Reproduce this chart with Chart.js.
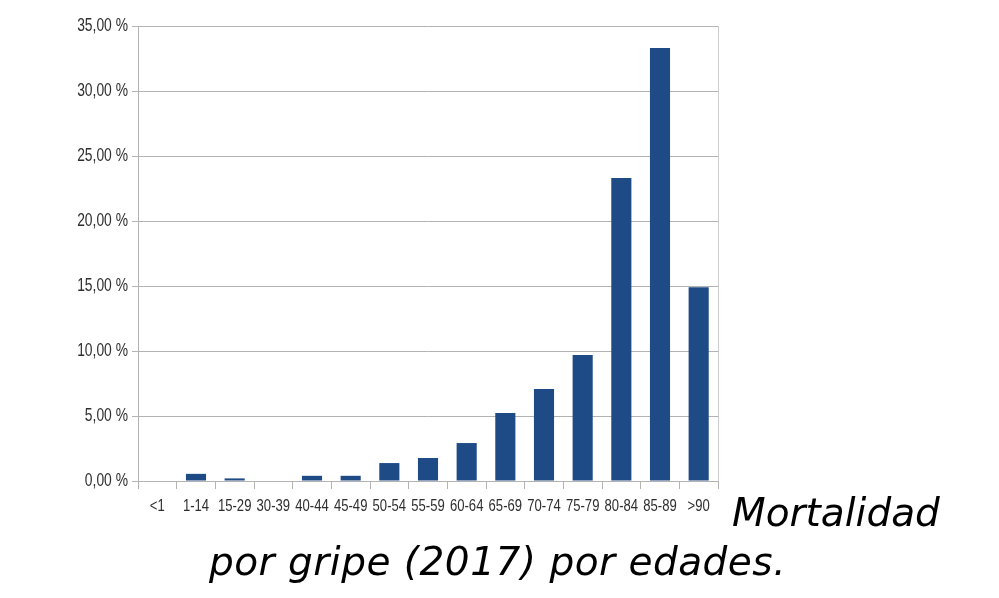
<!DOCTYPE html>
<html>
<head>
<meta charset="utf-8">
<script src="https://cdn.jsdelivr.net/npm/chart.js@4"></script>
<style>
  html, body { margin: 0; padding: 0; background: #fff; }
  #wrap { position: relative; width: 999px; height: 598px; }
  .cap {
    position: absolute;
    font-family: 'DejaVu Sans', Verdana, sans-serif;
    font-style: italic;
    font-size: 39px;
    line-height: 39px;
    color: #000;
    white-space: nowrap;
  }
</style>
</head>
<body>
<div id="wrap">
  <canvas id="bars" width="999" height="598"></canvas>
  <div class="cap" style="left:732px; top:493px;">Mortalidad</div>
  <div class="cap" style="left:209px; top:542px; letter-spacing:0.5px;">por gripe (2017) por edades.</div>
</div>
<script>
// age groups
const ageGroups = ['<1', '1-14', '15-29', '30-39', '40-44', '45-49', '50-54', '55-59',
  '60-64', '65-69', '70-74', '75-79', '80-84', '85-89', '>90'];
// share of flu deaths, percent
const mortality = [0, 0.55, 0.2, 0, 0.4, 0.4, 1.38, 1.77, 2.92, 5.23, 7.08, 9.69, 23.3, 33.3, 14.9];

const gridGray = '#b3b3b3';
const labelColor = '#2e2e2e';

// no narrow font installed, so squeeze the tick labels by hand
function narrowText(ctx, text, x, y, size, squeeze, align) {
  ctx.save();
  ctx.translate(x, y);
  ctx.scale(squeeze, 1);
  ctx.font = size + "px 'Liberation Sans', Arial, sans-serif";
  ctx.fillStyle = labelColor;
  ctx.textAlign = align;
  ctx.textBaseline = 'middle';
  ctx.fillText(text, 0, 0);
  ctx.restore();
}

const frameAndLabels = {
  id: 'frameAndLabels',
  afterDraw(chart) {
    const { ctx, chartArea } = chart;
    const xs = chart.scales.x;
    const ys = chart.scales.y;

    // thin frame on the right side of the plot
    ctx.save();
    ctx.strokeStyle = '#cccccc';
    ctx.lineWidth = 1;
    ctx.beginPath();
    ctx.moveTo(chartArea.right + 0.5, chartArea.top);
    ctx.lineTo(chartArea.right + 0.5, chartArea.bottom);
    ctx.stroke();
    ctx.restore();

    ys.ticks.forEach((t, i) => {
      narrowText(ctx, t.label, chartArea.left - 10, ys.getPixelForTick(i), 18, 0.77, 'right');
    });
    ageGroups.forEach((lab, i) => {
      narrowText(ctx, lab, xs.getPixelForTick(i), chartArea.bottom + 25, 17, 0.77, 'center');
    });
  }
};

new Chart(document.getElementById('bars'), {
  type: 'bar',
  data: {
    labels: ageGroups,
    datasets: [{
      data: mortality,
      backgroundColor: '#1e4a86',
      barPercentage: 0.52,
      categoryPercentage: 1
    }]
  },
  options: {
    responsive: false,
    animation: false,
    layout: { padding: { top: 26, right: 281, left: 0, bottom: 0 } },
    plugins: { legend: { display: false }, tooltip: { enabled: false } },
    scales: {
      x: {
        grid: { display: true, drawOnChartArea: false, color: gridGray, tickLength: 8, offset: true },
        border: { color: gridGray },
        ticks: { color: 'transparent', maxRotation: 0, autoSkip: false },
        afterFit(scale) { scale.height = 117; }
      },
      y: {
        min: 0,
        max: 35,
        ticks: {
          stepSize: 5,
          color: 'transparent',
          callback: v => v.toFixed(2).replace('.', ',') + ' %'
        },
        grid: { color: gridGray, tickLength: 6 },
        border: { color: gridGray },
        afterFit(scale) { scale.width = 138; }
      }
    }
  },
  plugins: [frameAndLabels]
});
</script>
</body>
</html>
